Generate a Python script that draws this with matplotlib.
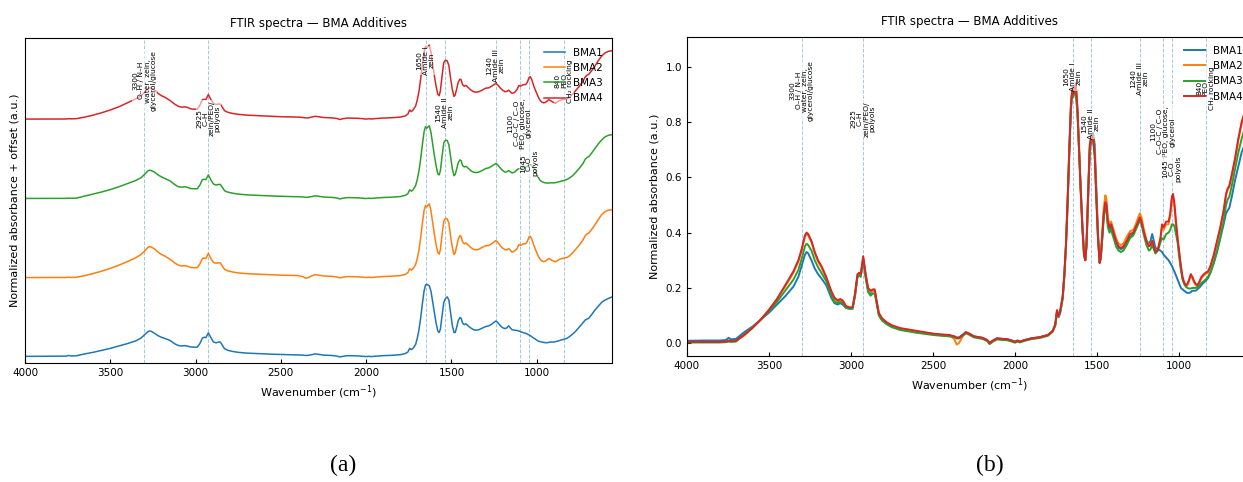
import matplotlib
matplotlib.use("Agg")
import matplotlib.pyplot as plt
import numpy as np

plt.rcParams['font.family'] = ['DejaVu Sans']
plt.rcParams['font.size'] = 7.5

# ---- data ----
wavenumber = [
    4000, 3900, 3800, 3760, 3745, 3730, 3700,
    3650, 3600, 3550, 3500, 3450, 3400, 3350, 3320, 3300, 3280, 3270, 3260, 3240, 3220, 3200, 3180, 3150, 3120, 3100, 3080, 3065, 3050, 3030, 3010,
    2990, 2975, 2960, 2950, 2940, 2925, 2910, 2895, 2880, 2865, 2855, 2845, 2830, 2810, 2780,
    2750, 2700, 2650, 2600, 2550, 2500, 2450, 2400, 2370, 2355, 2340, 2320, 2300, 2280, 2250, 2200, 2170, 2155, 2140, 2110, 2080, 2050, 2020, 2000, 1985, 1970, 1940, 1900, 1850, 1800, 1770,
    1755, 1745, 1735, 1725, 1710, 1700, 1690, 1680, 1670, 1660, 1652, 1645, 1638, 1630, 1620, 1610, 1600, 1590, 1580, 1572, 1565, 1555, 1545, 1535, 1525, 1515, 1505, 1495, 1485, 1478,
    1470, 1460, 1450, 1443, 1435, 1425, 1415, 1400, 1385, 1370, 1355, 1340, 1320, 1300, 1280, 1265, 1250, 1240, 1230, 1215, 1200, 1185, 1175, 1165, 1155, 1145, 1130, 1115,
    1105, 1095, 1080, 1065, 1055, 1045, 1038, 1030, 1020, 1010, 1000, 990, 980, 970, 960, 950, 940, 930, 920, 910, 900, 890, 880,
    865, 850, 840, 825, 810, 790, 770, 750, 730, 715, 705, 695, 680, 660, 640, 620, 600, 580, 557,
]

bma1 = [
    0.009, 0.010, 0.010, 0.012, 0.020, 0.014, 0.016,
    0.040, 0.060, 0.085, 0.110, 0.140, 0.170, 0.205, 0.240, 0.280, 0.320, 0.330, 0.325, 0.300, 0.270, 0.250, 0.235, 0.210, 0.165, 0.145, 0.140, 0.145, 0.140, 0.128, 0.125,
    0.125, 0.170, 0.240, 0.250, 0.245, 0.305, 0.245, 0.190, 0.180, 0.190, 0.190, 0.155, 0.105, 0.085, 0.070,
    0.060, 0.050, 0.045, 0.040, 0.036, 0.033, 0.030, 0.028, 0.025, 0.020, 0.022, 0.030, 0.040, 0.035, 0.025, 0.020, 0.012, 0.002, 0.008, 0.018, 0.016, 0.015, 0.010, 0.006, 0.010, 0.006, 0.012, 0.018, 0.022, 0.030, 0.045,
    0.065, 0.110, 0.095, 0.110, 0.160, 0.240, 0.350, 0.500, 0.680, 0.840, 0.910, 0.920, 0.910, 0.900, 0.830, 0.700, 0.560, 0.430, 0.330, 0.310, 0.350, 0.520, 0.690, 0.740, 0.760, 0.720, 0.560, 0.400, 0.310, 0.310,
    0.370, 0.460, 0.500, 0.490, 0.430, 0.410, 0.420, 0.390, 0.365, 0.345, 0.340, 0.345, 0.365, 0.385, 0.395, 0.415, 0.440, 0.455, 0.440, 0.400, 0.370, 0.360, 0.370, 0.395, 0.370, 0.345, 0.340, 0.335,
    0.330, 0.320, 0.310, 0.300, 0.290, 0.280, 0.270, 0.260, 0.245, 0.230, 0.215, 0.200, 0.195, 0.190, 0.185, 0.182, 0.182, 0.185, 0.190, 0.190, 0.190, 0.195, 0.200,
    0.210, 0.220, 0.225, 0.235, 0.255, 0.290, 0.330, 0.380, 0.430, 0.470, 0.480, 0.490, 0.530, 0.590, 0.640, 0.690, 0.720, 0.740, 0.760,
]

bma2 = [
    0.004, 0.004, 0.004, 0.005, 0.008, 0.006, 0.008,
    0.028, 0.055, 0.085, 0.120, 0.160, 0.205, 0.255, 0.295, 0.335, 0.385, 0.395, 0.390, 0.365, 0.325, 0.295, 0.275, 0.235, 0.185, 0.160, 0.150, 0.155, 0.150, 0.132, 0.128,
    0.128, 0.175, 0.245, 0.250, 0.245, 0.310, 0.245, 0.195, 0.185, 0.190, 0.190, 0.155, 0.108, 0.088, 0.073,
    0.063, 0.053, 0.048, 0.043, 0.038, 0.034, 0.031, 0.029, 0.015, -0.005, 0.002, 0.025, 0.040, 0.035, 0.024, 0.019, 0.011, 0.000, 0.007, 0.017, 0.015, 0.014, 0.009, 0.004, 0.009, 0.005, 0.011, 0.017, 0.021, 0.029, 0.044,
    0.068, 0.115, 0.098, 0.118, 0.168, 0.248, 0.355, 0.515, 0.695, 0.855, 0.915, 0.895, 0.915, 0.935, 0.845, 0.700, 0.550, 0.420, 0.320, 0.300, 0.355, 0.545, 0.715, 0.750, 0.745, 0.690, 0.530, 0.385, 0.295, 0.315,
    0.390, 0.490, 0.535, 0.520, 0.455, 0.430, 0.440, 0.410, 0.380, 0.360, 0.355, 0.360, 0.385, 0.405, 0.410, 0.430, 0.455, 0.470, 0.455, 0.410, 0.375, 0.355, 0.355, 0.370, 0.350, 0.325, 0.340, 0.370,
    0.420, 0.410, 0.430, 0.430, 0.460, 0.520, 0.525, 0.495, 0.430, 0.370, 0.320, 0.270, 0.235, 0.215, 0.205, 0.210, 0.225, 0.245, 0.235, 0.220, 0.210, 0.205, 0.215,
    0.235, 0.245, 0.250, 0.255, 0.275, 0.315, 0.365, 0.415, 0.475, 0.535, 0.555, 0.565, 0.605, 0.665, 0.735, 0.795, 0.835, 0.855, 0.860,
]

bma3 = [
    0.003, 0.003, 0.003, 0.004, 0.006, 0.005, 0.006,
    0.032, 0.057, 0.085, 0.115, 0.150, 0.190, 0.230, 0.265, 0.305, 0.350, 0.360, 0.355, 0.335, 0.300, 0.275, 0.255, 0.225, 0.175, 0.150, 0.145, 0.150, 0.145, 0.128, 0.125,
    0.125, 0.172, 0.240, 0.245, 0.240, 0.300, 0.235, 0.185, 0.172, 0.180, 0.180, 0.150, 0.100, 0.082, 0.068,
    0.058, 0.048, 0.043, 0.038, 0.034, 0.030, 0.027, 0.025, 0.022, 0.017, 0.018, 0.026, 0.036, 0.031, 0.021, 0.016, 0.008, -0.003, 0.004, 0.014, 0.012, 0.011, 0.006, 0.002, 0.006, 0.003, 0.009, 0.015, 0.019, 0.027, 0.042,
    0.065, 0.112, 0.095, 0.112, 0.165, 0.245, 0.355, 0.510, 0.690, 0.850, 0.910, 0.890, 0.905, 0.920, 0.835, 0.690, 0.545, 0.415, 0.315, 0.300, 0.350, 0.535, 0.705, 0.740, 0.735, 0.680, 0.525, 0.380, 0.290, 0.305,
    0.370, 0.455, 0.490, 0.480, 0.420, 0.400, 0.410, 0.380, 0.350, 0.335, 0.330, 0.335, 0.355, 0.380, 0.390, 0.410, 0.430, 0.445, 0.430, 0.390, 0.355, 0.335, 0.340, 0.355, 0.340, 0.325, 0.335, 0.365,
    0.380, 0.375, 0.395, 0.400, 0.410, 0.430, 0.430, 0.425, 0.395, 0.365, 0.310, 0.265, 0.230, 0.215, 0.205, 0.200, 0.198, 0.198, 0.200, 0.200, 0.200, 0.202, 0.208,
    0.218, 0.225, 0.230, 0.240, 0.258, 0.290, 0.335, 0.385, 0.440, 0.500, 0.520, 0.530, 0.570, 0.630, 0.690, 0.740, 0.780, 0.800, 0.810,
]

bma4 = [
    0.005, 0.005, 0.005, 0.006, 0.010, 0.008, 0.010,
    0.030, 0.055, 0.085, 0.120, 0.160, 0.210, 0.260, 0.300, 0.340, 0.390, 0.400, 0.395, 0.370, 0.330, 0.300, 0.280, 0.240, 0.190, 0.165, 0.155, 0.160, 0.155, 0.135, 0.130,
    0.130, 0.180, 0.250, 0.255, 0.250, 0.315, 0.250, 0.200, 0.190, 0.195, 0.195, 0.160, 0.110, 0.090, 0.075,
    0.065, 0.055, 0.050, 0.045, 0.040, 0.035, 0.032, 0.030, 0.025, 0.020, 0.020, 0.030, 0.040, 0.035, 0.025, 0.020, 0.012, 0.000, 0.008, 0.018, 0.016, 0.015, 0.010, 0.005, 0.010, 0.006, 0.012, 0.018, 0.022, 0.030, 0.045,
    0.070, 0.120, 0.100, 0.120, 0.170, 0.250, 0.360, 0.520, 0.700, 0.860, 0.920, 0.900, 0.920, 0.940, 0.850, 0.700, 0.550, 0.420, 0.320, 0.300, 0.360, 0.550, 0.720, 0.750, 0.740, 0.680, 0.520, 0.380, 0.290, 0.310,
    0.380, 0.470, 0.510, 0.500, 0.440, 0.420, 0.430, 0.400, 0.370, 0.350, 0.345, 0.350, 0.370, 0.395, 0.400, 0.420, 0.440, 0.455, 0.440, 0.400, 0.370, 0.350, 0.355, 0.370, 0.350, 0.330, 0.340, 0.380,
    0.430, 0.420, 0.440, 0.440, 0.470, 0.530, 0.540, 0.510, 0.440, 0.380, 0.330, 0.280, 0.240, 0.220, 0.210, 0.215, 0.230, 0.250, 0.240, 0.225, 0.215, 0.210, 0.220,
    0.240, 0.250, 0.255, 0.260, 0.280, 0.320, 0.370, 0.420, 0.480, 0.540, 0.560, 0.570, 0.610, 0.670, 0.740, 0.800, 0.840, 0.860, 0.870,
]

series_names = ['BMA1', 'BMA2', 'BMA3', 'BMA4']
series_vals = [bma1, bma2, bma3, bma4]
colors = ['#1f77b4', '#ff7f0e', '#2ca02c', '#d62728']

band_pos = [3300, 2925, 1650, 1540, 1240, 1100, 1045, 840]
band_text = [
    '3300\nO–H / N–H\nwater, zein,\nglycerol/glucose',
    '2925\nC–H\nzein/PEO/\npolyols',
    '1650\nAmide I\nzein',
    '1540\nAmide II\nzein',
    '1240\nAmide III\nzein',
    '1100\nC–O–C / C–O\nPEO, glucose,\nglycerol',
    '1045\nC–O\npolyols',
    '840\nPEO\nCH₂ rocking',
]
# label heights (axes fraction)
label_y_a = [0.869, 0.753, 0.931, 0.772, 0.916, 0.738, 0.615, 0.869]
label_y_b = [0.831, 0.742, 0.874, 0.728, 0.869, 0.702, 0.587, 0.838]

wn = np.array(wavenumber)

fig = plt.figure(figsize=(12.43, 4.82), dpi=100)
ax1 = fig.add_axes([25/1243, 1-362.7/482, 587.3/1243, 324.4/482])
ax2 = fig.add_axes([686.7/1243, 1-356/482, 565.3/1243, 319.5/482])


def add_bands(ax, ys):
    for pos, txt, y in zip(band_pos, band_text, ys):
        ax.axvline(pos, color='#1f77b4', ls='--', lw=0.7, alpha=0.4, zorder=0.5)
        ax.text(pos, y, txt, transform=ax.get_xaxis_transform(), rotation=90,
                ha='center', va='center', multialignment='center', fontsize=5.4,
                linespacing=1.05, zorder=5,
                bbox=dict(boxstyle='square,pad=0.05', facecolor='white',
                          edgecolor='none', alpha=0.55))


# (a) stacked
for i, (name, vals, c) in enumerate(zip(series_names, series_vals, colors)):
    ax1.plot(wn, np.array(vals) + i * 1.0, color=c, lw=1.1, label=name)
ax1.set_xlim(4000, 557)
ax1.set_ylim(-0.071, 4.025)
ax1.set_yticks([])
ax1.set_xticks([4000, 3500, 3000, 2500, 2000, 1500, 1000])
ax1.tick_params(direction='in', length=3)
add_bands(ax1, label_y_a)
ax1.set_title('FTIR spectra — BMA Additives', fontsize=8.5, pad=8)
ax1.set_xlabel('Wavenumber (cm$^{-1}$)', fontsize=8)
ax1.set_ylabel('Normalized absorbance + offset (a.u.)', fontsize=8)
ax1.legend(loc='upper right', frameon=False, fontsize=7.5)

# (b) overlaid
for name, vals, c in zip(series_names, series_vals, colors):
    ax2.plot(wn, vals, color=c, lw=1.4, label=name)
ax2.set_xlim(4000, 557)
ax2.set_ylim(-0.046, 1.109)
ax2.set_xticks([4000, 3500, 3000, 2500, 2000, 1500, 1000])
ax2.set_yticks([0.0, 0.2, 0.4, 0.6, 0.8, 1.0])
ax2.tick_params(direction='in', length=3)
add_bands(ax2, label_y_b)
ax2.set_title('FTIR spectra — BMA Additives', fontsize=8.5, pad=8)
ax2.set_xlabel('Wavenumber (cm$^{-1}$)', fontsize=8)
ax2.set_ylabel('Normalized absorbance (a.u.)', fontsize=8)
ax2.legend(loc='upper right', frameon=False, fontsize=7.5)

fig.text(343/1243, 1-465/482, '(a)', ha='center', va='center',
         family='Liberation Serif', fontsize=17)
fig.text(990/1243, 1-465/482, '(b)', ha='center', va='center',
         family='Liberation Serif', fontsize=17)

fig.savefig('out.png', dpi=100)
